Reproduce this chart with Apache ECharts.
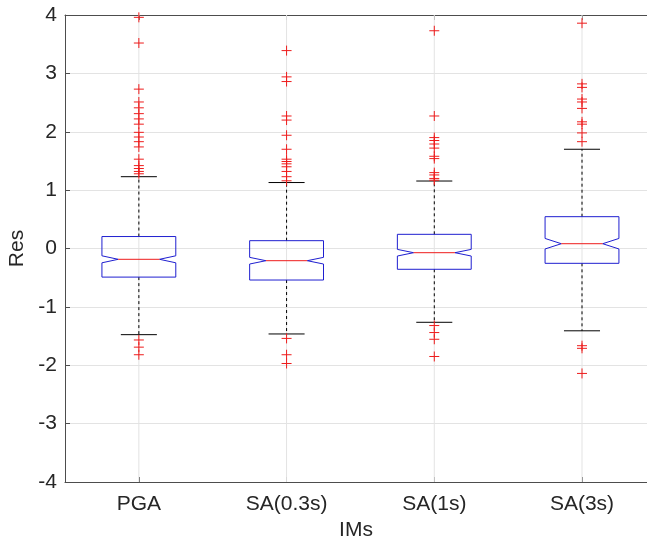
<!DOCTYPE html>
<html>
<head>
<meta charset="utf-8">
<script src="https://cdn.jsdelivr.net/npm/echarts@6/dist/echarts.min.js"></script>
<style>
  html, body { margin: 0; padding: 0; background: #ffffff; }
  #chart { width: 647px; height: 542px; }
</style>
</head>
<body>
<div id="chart"></div>
<script>
// Residual distributions per intensity measure
const categories = ['PGA', 'SA(0.3s)', 'SA(1s)', 'SA(3s)'];
const q1 = [-0.49, -0.54, -0.356, -0.254];
const medians = [-0.185, -0.209, -0.072, 0.082];
const q3 = [0.205, 0.134, 0.243, 0.545];
const whiskerLow = [-1.476, -1.464, -1.264, -1.41];
const whiskerHigh = [1.23, 1.13, 1.156, 1.70];
const notchHalf = [0.06, 0.057, 0.057, 0.09];

const outliersPGA = [3.96, 3.52, 2.73, 2.51, 2.41, 2.31, 2.22, 2.13, 1.99, 1.91, 1.83, 1.74,
  1.53, 1.42, 1.37, 1.32, 1.28, -1.567, -1.69, -1.82];
const outliersSA03 = [3.39, 2.94, 2.86, 2.27, 2.2, 1.94, 1.70, 1.53, 1.49, 1.45, 1.40, 1.32,
  1.23, 1.16, -1.54, -1.82, -1.97];
const outliersSA1 = [3.73, 2.27, 1.90, 1.85, 1.79, 1.72, 1.58, 1.54, 1.30, 1.26, 1.20, 1.17,
  -1.32, -1.44, -1.555, -1.85];
const outliersSA3 = [3.86, 2.82, 2.76, 2.56, 2.51, 2.40, 2.17, 2.13, 1.98, 1.83,
  -1.665, -1.71, -2.14];

const yTicks = [-4, -3, -2, -1, 0, 1, 2, 3, 4];
// box positions along x (1-based, as in the boxplot convention)
const xPositions = [1, 2, 3, 4];
// visible x window: the axes run on a little past the right edge of the page
const xMin = 0.5;
const xMax = 4.44;

const outlierGroups = [outliersPGA, outliersSA03, outliersSA1, outliersSA3];
const boxData = categories.map((c, i) =>
  [xPositions[i], q1[i], medians[i], q3[i], whiskerLow[i], whiskerHigh[i], notchHalf[i]]);
const outlierData = [];
outlierGroups.forEach((g, i) => g.forEach(v => outlierData.push([xPositions[i], v])));
const gridData = xPositions.map(p => [p]);

const FONT = '"Liberation Sans", Arial, Helvetica, sans-serif';
const TEXT = '#262626';
const AXIS = '#4d4d4d';
const BLUE = '#1f1fd0';
const RED = '#ee1c1c';

function renderBox(params, api) {
  const xv = api.value(0);
  const lo1 = api.value(1), med = api.value(2), hi3 = api.value(3);
  const wl = api.value(4), wh = api.value(5), n = api.value(6);
  const x = api.coord([xv, 0])[0];
  const unit = api.size([1, 0])[0];
  const hw = unit * 0.25, nw = unit * 0.14, cw = unit * 0.122;
  const y = v => api.coord([xv, v])[1];
  const thin = { stroke: BLUE, lineWidth: 1, fill: null };
  return {
    type: 'group',
    children: [
      { type: 'line', shape: { x1: x, y1: y(hi3), x2: x, y2: y(wh) },
        style: { stroke: '#000', lineWidth: 1, lineDash: [3, 3] } },
      { type: 'line', shape: { x1: x, y1: y(lo1), x2: x, y2: y(wl) },
        style: { stroke: '#000', lineWidth: 1, lineDash: [3, 3] } },
      { type: 'line', shape: { x1: x - cw, y1: y(wh), x2: x + cw, y2: y(wh) },
        style: { stroke: '#000', lineWidth: 1 } },
      { type: 'line', shape: { x1: x - cw, y1: y(wl), x2: x + cw, y2: y(wl) },
        style: { stroke: '#000', lineWidth: 1 } },
      { type: 'polygon', shape: { points: [
          [x - hw, y(hi3)], [x + hw, y(hi3)], [x + hw, y(med + n)], [x + nw, y(med)],
          [x + hw, y(med - n)], [x + hw, y(lo1)], [x - hw, y(lo1)], [x - hw, y(med - n)],
          [x - nw, y(med)], [x - hw, y(med + n)]
        ] }, style: thin },
      { type: 'line', shape: { x1: x - nw, y1: y(med), x2: x + nw, y2: y(med) },
        style: { stroke: RED, lineWidth: 1 } }
    ]
  };
}

function renderPlus(params, api) {
  const p = api.coord([api.value(0), api.value(1)]);
  const s = 5;
  return {
    type: 'group',
    children: [
      { type: 'line', shape: { x1: p[0] - s, y1: p[1], x2: p[0] + s, y2: p[1] },
        style: { stroke: RED, lineWidth: 1 } },
      { type: 'line', shape: { x1: p[0], y1: p[1] - s, x2: p[0], y2: p[1] + s },
        style: { stroke: RED, lineWidth: 1 } }
    ]
  };
}

function renderVGrid(params, api) {
  const xv = api.value(0);
  const x = api.coord([xv, 0])[0];
  const top = api.coord([xv, yTicks[yTicks.length - 1]])[1];
  const bot = api.coord([xv, yTicks[0]])[1];
  return { type: 'line', shape: { x1: x, y1: top, x2: x, y2: bot },
    style: { stroke: '#e3e3e3', lineWidth: 1 } };
}

const xLabel = v => {
  const k = xPositions.indexOf(Math.round(v));
  return k >= 0 ? categories[k] : '';
};

const chart = echarts.init(document.getElementById('chart'), null, { renderer: 'canvas' });
chart.setOption({
  animation: false,
  backgroundColor: '#ffffff',
  grid: { left: 65, top: 15, right: 0, bottom: 60, show: false, outerBoundsMode: 'none' },
  xAxis: [{
    type: 'value',
    min: xMin,
    max: xMax,
    position: 'bottom',
    name: 'IMs',
    nameLocation: 'middle',
    nameGap: 38,
    nameTextStyle: { fontFamily: FONT, fontSize: 21, color: TEXT },
    axisLine: { onZero: false, lineStyle: { color: AXIS, width: 1 } },
    axisTick: { inside: true, length: 5, customValues: xPositions, lineStyle: { color: AXIS } },
    axisLabel: { fontFamily: FONT, fontSize: 21, color: TEXT, margin: 12,
      customValues: xPositions, formatter: xLabel },
    splitLine: { show: false }
  }, {
    type: 'value',
    min: xMin,
    max: xMax,
    position: 'top',
    axisLine: { show: true, onZero: false, lineStyle: { color: AXIS, width: 1 } },
    axisTick: { show: true, inside: true, length: 5, customValues: xPositions, lineStyle: { color: AXIS } },
    axisLabel: { show: false },
    splitLine: { show: false }
  }],
  yAxis: {
    type: 'value',
    min: yTicks[0],
    max: yTicks[yTicks.length - 1],
    interval: 1,
    name: 'Res',
    nameLocation: 'middle',
    nameGap: 34,
    nameTextStyle: { fontFamily: FONT, fontSize: 21, color: TEXT },
    axisLine: { show: true, onZero: false, lineStyle: { color: AXIS, width: 1 } },
    axisTick: { show: true, inside: true, length: 5, lineStyle: { color: AXIS } },
    axisLabel: { fontFamily: FONT, fontSize: 21, color: TEXT, margin: 8 },
    splitLine: { show: true, lineStyle: { color: '#e3e3e3', width: 1 } }
  },
  series: [
    { type: 'custom', name: 'grid', data: gridData, renderItem: renderVGrid, z: 1, silent: true,
      encode: { x: 0 } },
    { type: 'custom', name: 'boxes', data: boxData, renderItem: renderBox, z: 3,
      encode: { x: 0, y: [1, 2, 3, 4, 5] } },
    { type: 'custom', name: 'outliers', data: outlierData, renderItem: renderPlus, z: 4,
      encode: { x: 0, y: 1 } }
  ]
});
</script>
</body>
</html>
